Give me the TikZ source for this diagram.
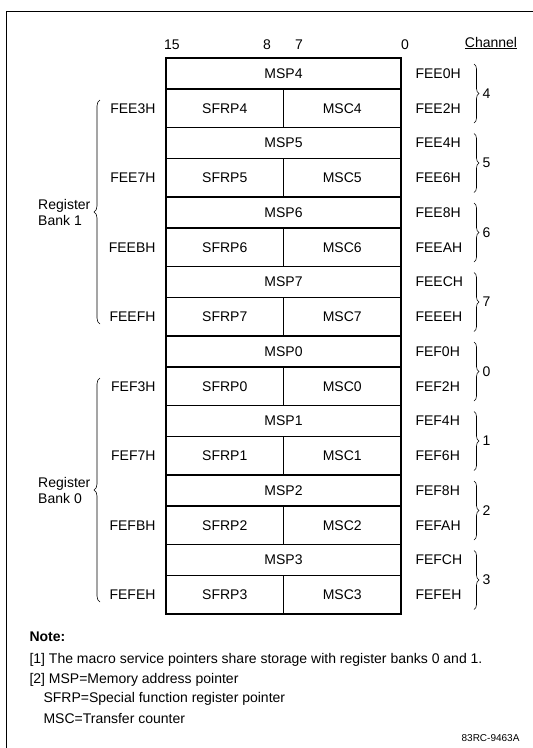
\documentclass[tikz,border=0pt]{standalone}
\usepackage{fontspec}
\setmainfont{Liberation Sans}
\usepackage{tikz}
\usetikzlibrary{decorations.pathreplacing}

\begin{document}
\begin{tikzpicture}
[x=1pt,y=-1pt,font=\fontsize{14}{16}\selectfont,
 wide/.style={draw,rectangle,line width=1.1pt,inner sep=0pt,minimum width=235pt,minimum height=31pt},
 half/.style={draw,rectangle,line width=1.1pt,inner sep=0pt,minimum width=117.5pt,minimum height=38.5pt},
 laddr/.style={anchor=east},
 raddr/.style={anchor=west},
 chanbrace/.style={decorate,decoration={brace,amplitude=5pt},line width=0.6pt},
 bankbrace/.style={decorate,decoration={brace,amplitude=6pt},line width=0.6pt}]
\useasboundingbox (0,0) rectangle (533,748);
% Frame
\draw[line width=0.9pt] (6,748) -- (6,11) -- (533,11);

% Bit numbers and heading
\node(b15) at (172,45) {15};
\node(b8)  at (267,45) {8};
\node(b7)  at (299,45) {7};
\node(b0)  at (405,45) {0};
\node(Ch)  at (491,43) {\underline{Channel}};

% Nodes of the diagram
\node(MSP4)[wide] at (283.5,73.5)  {MSP4};
\node(SFRP4)[half] at (224.75,108.25) {SFRP4};
\node(MSC4)[half] at (342.25,108.25) {MSC4};
\node(MSP5)[wide] at (283.5,143)   {MSP5};
\node(SFRP5)[half] at (224.75,177.75) {SFRP5};
\node(MSC5)[half] at (342.25,177.75) {MSC5};
\node(MSP6)[wide] at (283.5,212.5) {MSP6};
\node(SFRP6)[half] at (224.75,247.25) {SFRP6};
\node(MSC6)[half] at (342.25,247.25) {MSC6};
\node(MSP7)[wide] at (283.5,282)   {MSP7};
\node(SFRP7)[half] at (224.75,316.75) {SFRP7};
\node(MSC7)[half] at (342.25,316.75) {MSC7};
\node(MSP0)[wide] at (283.5,351.5) {MSP0};
\node(SFRP0)[half] at (224.75,386.25) {SFRP0};
\node(MSC0)[half] at (342.25,386.25) {MSC0};
\node(MSP1)[wide] at (283.5,421)   {MSP1};
\node(SFRP1)[half] at (224.75,455.75) {SFRP1};
\node(MSC1)[half] at (342.25,455.75) {MSC1};
\node(MSP2)[wide] at (283.5,490.5) {MSP2};
\node(SFRP2)[half] at (224.75,525.25) {SFRP2};
\node(MSC2)[half] at (342.25,525.25) {MSC2};
\node(MSP3)[wide] at (283.5,560)   {MSP3};
\node(SFRP3)[half] at (224.75,594.75) {SFRP3};
\node(MSC3)[half] at (342.25,594.75) {MSC3};

% Left addresses
\node(L4)[laddr] at (159,108.25) {FEE3H};
\node(L5)[laddr] at (159,177.75) {FEE7H};
\node(L6)[laddr] at (159,247.25) {FEEBH};
\node(L7)[laddr] at (159,316.75) {FEEFH};
\node(L0)[laddr] at (159,386.25) {FEF3H};
\node(L1)[laddr] at (159,455.75) {FEF7H};
\node(L2)[laddr] at (159,525.25) {FEFBH};
\node(L3)[laddr] at (159,594.75) {FEFEH};

% Right addresses
\node(R4a)[raddr] at (412,73.5)  {FEE0H};
\node(R4b)[raddr] at (412,108.25) {FEE2H};
\node(R5a)[raddr] at (412,143)   {FEE4H};
\node(R5b)[raddr] at (412,177.75) {FEE6H};
\node(R6a)[raddr] at (412,212.5) {FEE8H};
\node(R6b)[raddr] at (412,247.25) {FEEAH};
\node(R7a)[raddr] at (412,282)   {FEECH};
\node(R7b)[raddr] at (412,316.75) {FEEEH};
\node(R0a)[raddr] at (412,351.5) {FEF0H};
\node(R0b)[raddr] at (412,386.25) {FEF2H};
\node(R1a)[raddr] at (412,421)   {FEF4H};
\node(R1b)[raddr] at (412,455.75) {FEF6H};
\node(R2a)[raddr] at (412,490.5) {FEF8H};
\node(R2b)[raddr] at (412,525.25) {FEFAH};
\node(R3a)[raddr] at (412,560)   {FEFCH};
\node(R3b)[raddr] at (412,594.75) {FEFEH};

% Channel braces
\draw[chanbrace] (474,64)    -- (474,123)   node[midway,right,xshift=5pt]{4};
\draw[chanbrace] (474,133.5) -- (474,192.5) node[midway,right,xshift=5pt]{5};
\draw[chanbrace] (474,203)   -- (474,262)   node[midway,right,xshift=5pt]{6};
\draw[chanbrace] (474,272.5) -- (474,331.5) node[midway,right,xshift=5pt]{7};
\draw[chanbrace] (474,342)   -- (474,401)   node[midway,right,xshift=5pt]{0};
\draw[chanbrace] (474,411.5) -- (474,470.5) node[midway,right,xshift=5pt]{1};
\draw[chanbrace] (474,481)   -- (474,540)   node[midway,right,xshift=5pt]{2};
\draw[chanbrace] (474,550.5) -- (474,609.5) node[midway,right,xshift=5pt]{3};

% Register banks
\draw[bankbrace] (100,324) -- (100,100) node(Bk1)[midway,left,xshift=-6pt,align=left]{Register\\Bank 1};
\draw[bankbrace] (100,602) -- (100,378) node(Bk0)[midway,left,xshift=-6pt,align=left]{Register\\Bank 0};

% Notes
\node(N0)[anchor=west] at (26,637) {\textbf{Note:}};
\node(N1)[anchor=west] at (26,660) {[1] The macro service pointers share storage with register banks 0 and 1.};
\node(N2)[anchor=west] at (26,680) {[2] MSP=Memory address pointer};
\node(N3)[anchor=west] at (40,699) {SFRP=Special function register pointer};
\node(N4)[anchor=west] at (40,718) {MSC=Transfer counter};
\node(ID)[anchor=east,font=\fontsize{10}{12}\selectfont] at (523,738) {83RC-9463A};
\end{tikzpicture}
\end{document}
